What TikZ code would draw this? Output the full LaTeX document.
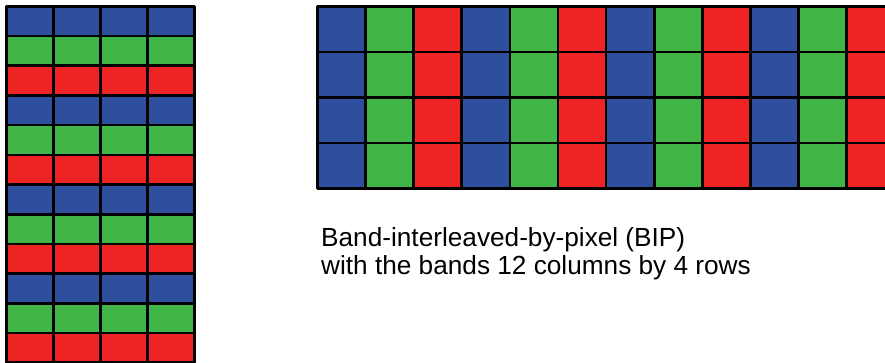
\documentclass[tikz,border=0pt]{standalone}
\usepackage{fontspec}
\setmainfont{Liberation Sans}
\definecolor{bandblue}{RGB}{46,78,158}
\definecolor{bandgreen}{RGB}{66,181,73}
\definecolor{bandred}{RGB}{237,35,36}
\tikzset{
    lab/.style={
        font=\fontsize{26.2}{27.5}\selectfont
    }
}

\begin{document}
\begin{tikzpicture}[x=1pt,y=-1pt, line cap=round, line join=round]

\tikzset{
  cell/.style={draw=black, line width=2.6pt, inner sep=0pt, outer sep=0pt},
  tallcell/.style={cell, minimum width=47pt, minimum height=29.7pt},
  widecell/.style={cell, minimum width=48.13pt, minimum height=45.4pt},
}

\useasboundingbox (0,0) rectangle (885,362);
\clip (0,0) rectangle (885,362);

% left stack: one band per row
\foreach \r/\band in {0/bandblue,1/bandgreen,2/bandred,3/bandblue,4/bandgreen,5/bandred,
                      6/bandblue,7/bandgreen,8/bandred,9/bandblue,10/bandgreen,11/bandred}
  \foreach \c in {0,...,3}
    \node[tallcell, fill=\band] (L-\r-\c) at ({29.8+47*\c},{21.15+29.7*\r}) {};

% right grid: one band per column
\foreach \c/\band in {0/bandblue,1/bandgreen,2/bandred,3/bandblue,4/bandgreen,5/bandred,
                      6/bandblue,7/bandgreen,8/bandred,9/bandblue,10/bandgreen,11/bandred}
  \foreach \r in {0,...,3}
    \node[widecell, fill=\band] (R-\r-\c) at ({341.37+48.13*\c},{29.4+45.4*\r}) {};

% caption (anchored on the baseline of its last line)
\node[lab, anchor=base west, align=left, inner sep=0pt] (caption) at (321,274)
  {Band-interleaved-by-pixel (BIP)\\with the bands 12 columns by 4 rows};

\end{tikzpicture}
\end{document}
